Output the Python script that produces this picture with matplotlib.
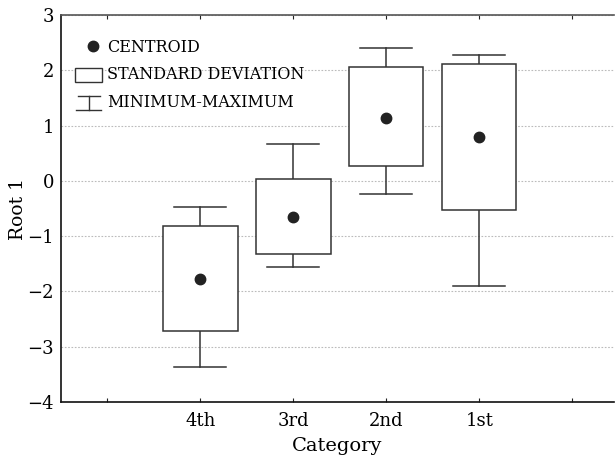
import matplotlib
matplotlib.use("Agg")
import matplotlib.pyplot as plt
from matplotlib.patches import Rectangle
from matplotlib.lines import Line2D
from matplotlib.legend_handler import HandlerBase

categories = ["4th", "3rd", "2nd", "1st"]
centroid = [-1.78, -0.66, 1.14, 0.79]
sd_low = [-2.72, -1.32, 0.27, -0.52]
sd_high = [-0.81, 0.03, 2.06, 2.12]
v_min = [-3.37, -1.55, -0.23, -1.91]
v_max = [-0.48, 0.66, 2.40, 2.27]
yticks = [-4, -3, -2, -1, 0, 1, 2, 3]

plt.rcParams['font.family'] = ['DejaVu Serif']
fig = plt.figure(figsize=(6.16, 4.61), dpi=100)
ax = fig.add_axes([61/616, 59/461, (614-61)/616, (402-15)/461])

ec = "#333333"
box_w = 0.8
cap_w = 0.56
positions = list(range(1, len(categories) + 1))
for x, c, lo, hi, mn, mx in zip(positions, centroid, sd_low, sd_high, v_min, v_max):
    ax.add_patch(Rectangle((x - box_w/2, lo), box_w, hi - lo, facecolor="white",
                           edgecolor=ec, linewidth=1.1, zorder=3))
    ax.plot([x, x], [hi, mx], color=ec, lw=1.1, zorder=2)
    ax.plot([x, x], [mn, lo], color=ec, lw=1.1, zorder=2)
    ax.plot([x - cap_w/2, x + cap_w/2], [mx, mx], color=ec, lw=1.1, zorder=2)
    ax.plot([x - cap_w/2, x + cap_w/2], [mn, mn], color=ec, lw=1.1, zorder=2)
    ax.plot([x], [c], 'o', color="#222222", markersize=7.5, zorder=4)

ax.set_xlim(-0.5, 5.45)
ax.set_ylim(-4, 3)
ax.set_xticks([0] + positions + [5])
ax.set_xticklabels([""] + categories + [""], fontsize=13)
ax.set_yticks(yticks)
ax.set_yticklabels([str(t).replace("-", "\u2212") for t in yticks], fontsize=13)
ax.tick_params(axis='x', direction='in', length=3, top=True, color="#222222", pad=7)
ax.tick_params(axis='y', length=0, pad=5)
ax.yaxis.grid(True, linestyle=(0, (1.5, 1.5)), color="#bbbbbb", linewidth=0.8)
ax.set_axisbelow(True)
ax.spines['right'].set_visible(False)
for s in ['left', 'bottom']:
    ax.spines[s].set_linewidth(1.2)
    ax.spines[s].set_color("#111111")
ax.spines['top'].set_color("#555555")
ax.spines['top'].set_linewidth(1.2)
ax.set_xlabel("Category", fontsize=14, labelpad=5)
ax.set_ylabel("Root 1", fontsize=13.5)
ax.yaxis.set_label_coords(-34/553, 0.5)


class MinMaxHandler(HandlerBase):
    def create_artists(self, legend, orig_handle, xd, yd, width, height, fontsize, trans):
        cx = xd + width / 2
        top = yd + height * 1.05
        bot = yd - height * 0.2
        l1 = Line2D([cx - width*0.42, cx + width*0.42], [top, top], color=ec, lw=1.0, transform=trans)
        l2 = Line2D([cx, cx], [bot, top], color=ec, lw=1.0, transform=trans)
        l3 = Line2D([cx - width*0.46, cx + width*0.46], [bot, bot], color=ec, lw=1.0, transform=trans)
        return [l1, l2, l3]


class BoxHandler(HandlerBase):
    def create_artists(self, legend, orig_handle, xd, yd, width, height, fontsize, trans):
        r = Rectangle((xd, yd - height*0.2), width, height*1.25, facecolor="white",
                      edgecolor=ec, lw=1.0, transform=trans)
        return [r]


class DotHandler(HandlerBase):
    def create_artists(self, legend, orig_handle, xd, yd, width, height, fontsize, trans):
        m = Line2D([xd + width*0.65], [yd + height/2], marker='o', color="#222222",
                   markersize=7.5, linestyle='none', transform=trans)
        return [m]


h_dot = Line2D([], [])
h_box = Rectangle((0, 0), 1, 1)
h_mm = Line2D([], [], ls='--')
leg = ax.legend([h_dot, h_box, h_mm], ["CENTROID", "STANDARD DEVIATION", "MINIMUM-MAXIMUM"],
                handler_map={h_dot: DotHandler(), h_box: BoxHandler(), h_mm: MinMaxHandler()},
                loc='upper left', bbox_to_anchor=(0.003, 0.972), frameon=False, fontsize=11.5,
                handlelength=1.65, handletextpad=0.35, labelspacing=0.68, borderaxespad=0.4)

fig.savefig("out.png", dpi=100)
